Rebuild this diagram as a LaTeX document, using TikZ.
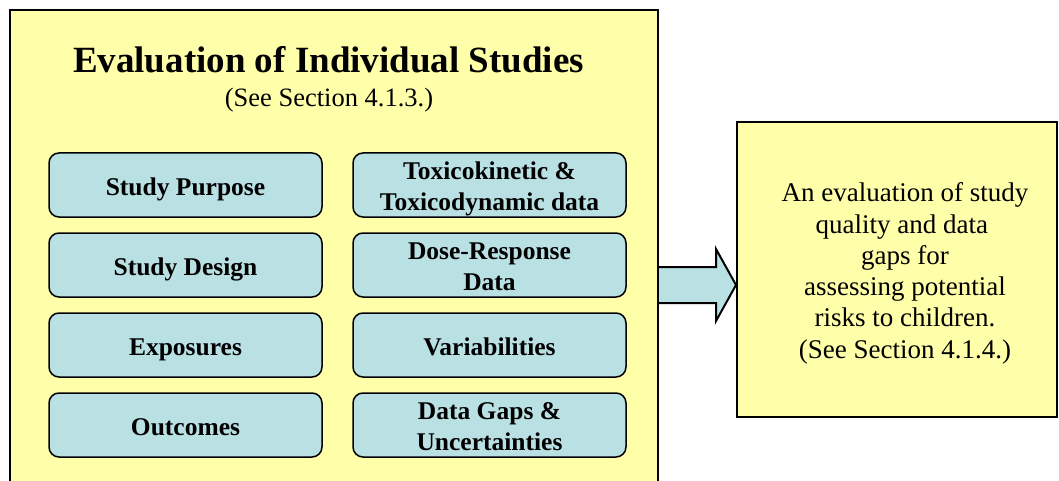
\documentclass[tikz,border=0pt]{standalone}
\usepackage{fontspec}
\setmainfont{LiberationSerif}[Extension=.ttf, UprightFont=*-Regular, BoldFont=*-Bold, ItalicFont=*-Italic, BoldItalicFont=*-BoldItalic]
\usetikzlibrary{calc}
\definecolor{panelfill}{RGB}{255,255,170}
\definecolor{itemfill}{RGB}{185,224,227}
% centred lines of text, sitting #1 lower than the middle of their box
\newcommand{\lowlines}[2]{\raisebox{0pt}[\dimexpr\height+#1\relax][\dimexpr\depth-#1\relax]{\begin{tabular}{@{}c@{}}#2\end{tabular}}}
\tikzset{
  panel/.style={draw=black, line width=2pt, fill=panelfill, inner sep=0pt},
  item/.style={draw=black, line width=1.5pt, fill=itemfill, rounded corners=10pt,
    minimum width=273pt, minimum height=64pt, inner sep=0pt,
    font=\fontsize{25.5}{31}\selectfont\bfseries},
  flowarrow/.style={draw=black, line width=2pt, fill=itemfill, line join=miter}
}
\begin{document}
\begin{tikzpicture}[x=1pt, y=-1pt]
\useasboundingbox (0,0) rectangle (1059,481);
\begin{scope}
  \clip (0,0) rectangle (1059,481);
  % main panel, running off the lower edge
  \node[panel, minimum width=648pt, minimum height=500pt, anchor=north west] (panel) at (9,9) {};
\end{scope}
\node[font=\fontsize{37}{41}\selectfont\bfseries] (title) at (328.5,60) {Evaluation of Individual Studies};
\node[font=\fontsize{26.5}{30}\selectfont] (sub) at (329,100) {(See Section 4.1.3.)};

% evaluation criteria
\node[item] (purpose)  at (185.5,185) {\lowlines{4pt}{Study Purpose}};
\node[item] (design)   at (185.5,265) {\lowlines{4pt}{Study Design}};
\node[item] (expo)     at (185.5,345) {\lowlines{4pt}{Exposures}};
\node[item] (outc)     at (185.5,425) {\lowlines{4pt}{Outcomes}};
\node[item] (tktd)     at (489.5,185) {\lowlines{4pt}{Toxicokinetic \&\\Toxicodynamic data}};
\node[item] (dose)     at (489.5,265) {\lowlines{4pt}{Dose-Response\\Data}};
\node[item] (var)      at (489.5,345) {\lowlines{4pt}{Variabilities}};
\node[item] (gaps)     at (489.5,425) {\lowlines{4pt}{Data Gaps \&\\Uncertainties}};

% result box
\node[panel, minimum width=320pt, minimum height=295pt,
      font=\fontsize{27}{31.3}\selectfont] (result) at (897,269.5)
  {\hspace*{16pt}\lowlines{4.2pt}{An evaluation of study\\quality and data\kern6.5pt\\gaps for\\assessing potential\\risks to children.\\(See Section 4.1.4.)}};

% block arrow from the panel to the result box
\coordinate (tail) at (panel.east |- 0,285);
\coordinate (tip) at (result.west |- 0,285);
\draw[flowarrow] ($(tail)+(0,-18)$) -- ($(tip)+(-20,-18)$) -- ($(tip)+(-20,-36)$)
  -- (tip) -- ($(tip)+(-20,36)$) -- ($(tip)+(-20,18)$) -- ($(tail)+(0,18)$);
\end{tikzpicture}
\end{document}
